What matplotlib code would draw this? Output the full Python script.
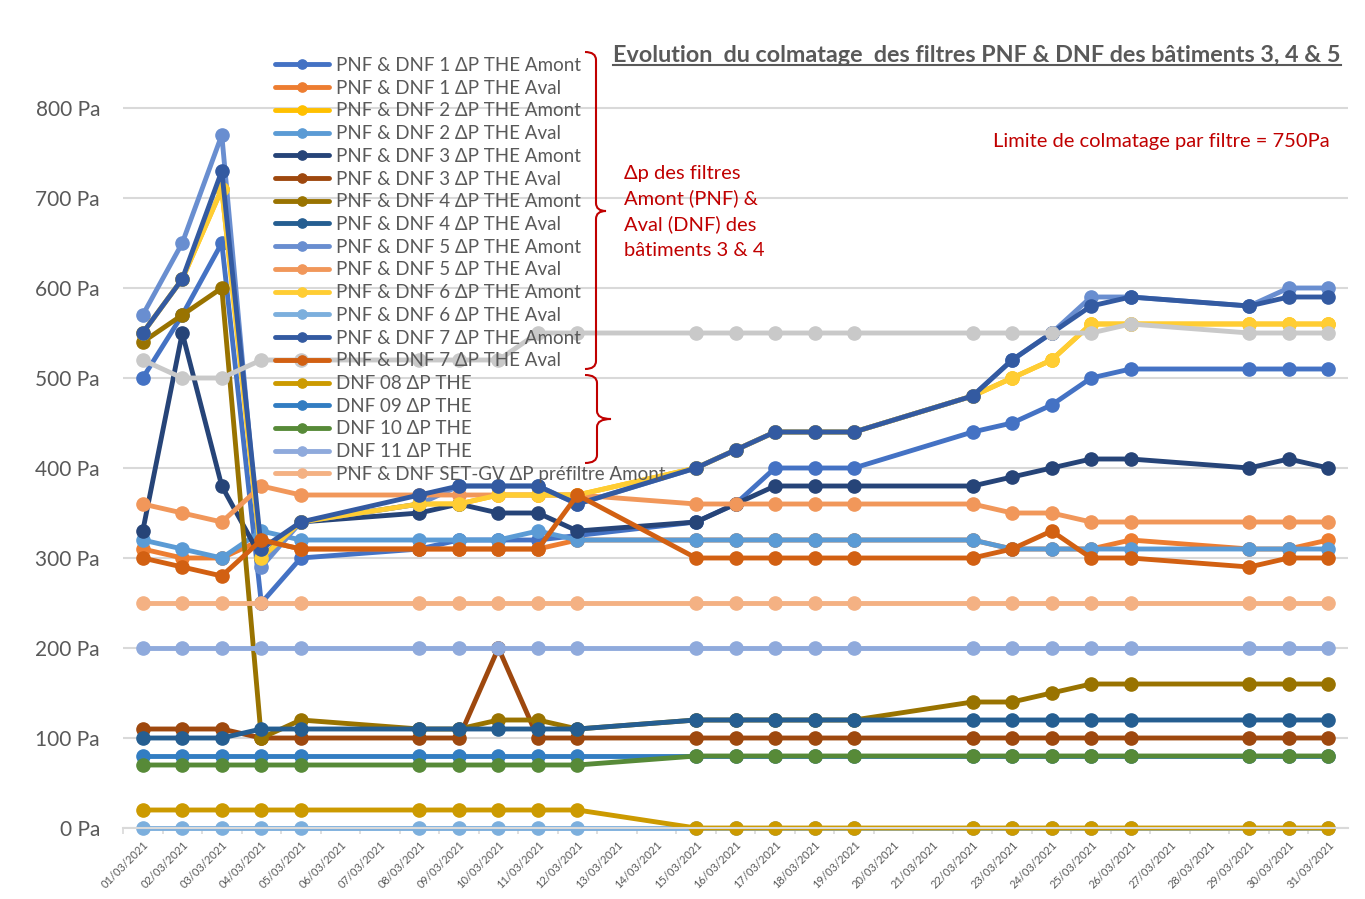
import matplotlib.pyplot as plt
from matplotlib.path import Path
from matplotlib.patches import PathPatch
from matplotlib.lines import Line2D

plt.rcParams['font.family'] = ['Lato', 'DejaVu Sans']

# jours de mesure (mars 2021)
jours = [1, 2, 3, 4, 5, 8, 9, 10, 11, 12, 15, 16, 17, 18, 19, 22, 23, 24, 25, 26, 29, 30, 31]
dates = ["%02d/03/2021" % j for j in range(1, 32)]

pnf1_amont = [500, 570, 650, 250, 300, 310, 320, 320, 320, 325, 340, 360, 400, 400, 400, 440, 450, 470, 500, 510, 510, 510, 510]
pnf1_aval = [310, 300, 300, 320, 310, 310, 310, 310, 310, 320, 320, 320, 320, 320, 320, 320, 310, 310, 310, 320, 310, 310, 320]
pnf2_amont = [550, 610, 710, 300, 340, 360, 360, 370, 370, 370, 400, 420, 440, 440, 440, 480, 500, 520, 560, 560, 560, 560, 560]
pnf2_aval = [320, 310, 300, 330, 320, 320, 320, 320, 330, 320, 320, 320, 320, 320, 320, 320, 310, 310, 310, 310, 310, 310, 310]
pnf3_amont = [330, 550, 380, 300, 340, 350, 360, 350, 350, 330, 340, 360, 380, 380, 380, 380, 390, 400, 410, 410, 400, 410, 400]
pnf3_aval = [110, 110, 110, 100, 100, 100, 100, 200, 100, 100, 100, 100, 100, 100, 100, 100, 100, 100, 100, 100, 100, 100, 100]
pnf4_amont = [540, 570, 600, 100, 120, 110, 110, 120, 120, 110, 120, 120, 120, 120, 120, 140, 140, 150, 160, 160, 160, 160, 160]
pnf4_aval = [100, 100, 100, 110, 110, 110, 110, 110, 110, 110, 120, 120, 120, 120, 120, 120, 120, 120, 120, 120, 120, 120, 120]
pnf5_amont = [570, 650, 770, 290, 340, 360, 380, 380, 380, 360, 400, 420, 440, 440, 440, 480, 520, 550, 590, 590, 580, 600, 600]
pnf5_aval = [360, 350, 340, 380, 370, 370, 370, 370, 370, 370, 360, 360, 360, 360, 360, 360, 350, 350, 340, 340, 340, 340, 340]
pnf6_amont = [550, 610, 710, 300, 340, 360, 360, 370, 370, 370, 400, 420, 440, 440, 440, 480, 500, 520, 560, 560, 560, 560, 560]
pnf6_aval = [0, 0, 0, 0, 0, 0, 0, 0, 0, 0, 0, 0, 0, 0, 0, 0, 0, 0, 0, 0, 0, 0, 0]
pnf7_amont = [550, 610, 730, 310, 340, 370, 380, 380, 380, 360, 400, 420, 440, 440, 440, 480, 520, 550, 580, 590, 580, 590, 590]
pnf7_aval = [300, 290, 280, 320, 310, 310, 310, 310, 310, 370, 300, 300, 300, 300, 300, 300, 310, 330, 300, 300, 290, 300, 300]
dnf08 = [20, 20, 20, 20, 20, 20, 20, 20, 20, 20, 0, 0, 0, 0, 0, 0, 0, 0, 0, 0, 0, 0, 0]
dnf09 = [80, 80, 80, 80, 80, 80, 80, 80, 80, 80, 80, 80, 80, 80, 80, 80, 80, 80, 80, 80, 80, 80, 80]
dnf10 = [70, 70, 70, 70, 70, 70, 70, 70, 70, 70, 80, 80, 80, 80, 80, 80, 80, 80, 80, 80, 80, 80, 80]
dnf11 = [200, 200, 200, 200, 200, 200, 200, 200, 200, 200, 200, 200, 200, 200, 200, 200, 200, 200, 200, 200, 200, 200, 200]
setgv_amont = [250, 250, 250, 250, 250, 250, 250, 250, 250, 250, 250, 250, 250, 250, 250, 250, 250, 250, 250, 250, 250, 250, 250]
setgv_aval = [520, 500, 500, 520, 520, 520, 520, 520, 550, 550, 550, 550, 550, 550, 550, 550, 550, 550, 550, 560, 550, 550, 550]

series = [
    ("PNF & DNF 1 ΔP THE Amont", pnf1_amont, "#4472C4"),
    ("PNF & DNF 1 ΔP THE Aval", pnf1_aval, "#ED7D31"),
    ("PNF & DNF 2 ΔP THE Amont", pnf2_amont, "#FFC000"),
    ("PNF & DNF 2 ΔP THE Aval", pnf2_aval, "#5B9BD5"),
    ("PNF & DNF 3 ΔP THE Amont", pnf3_amont, "#264478"),
    ("PNF & DNF 3 ΔP THE Aval", pnf3_aval, "#9E480E"),
    ("PNF & DNF 4 ΔP THE Amont", pnf4_amont, "#997300"),
    ("PNF & DNF 4 ΔP THE Aval", pnf4_aval, "#255E91"),
    ("PNF & DNF 5 ΔP THE Amont", pnf5_amont, "#698ED0"),
    ("PNF & DNF 5 ΔP THE Aval", pnf5_aval, "#F1975A"),
    ("PNF & DNF 6 ΔP THE Amont", pnf6_amont, "#FFCD33"),
    ("PNF & DNF 6 ΔP THE Aval", pnf6_aval, "#7CAFDD"),
    ("PNF & DNF 7 ΔP THE Amont", pnf7_amont, "#335AA1"),
    ("PNF & DNF 7 ΔP THE Aval", pnf7_aval, "#D26012"),
    ("DNF 08 ΔP THE", dnf08, "#CC9A00"),
    ("DNF 09 ΔP THE", dnf09, "#327DC2"),
    ("DNF 10 ΔP THE", dnf10, "#578A38"),
    ("DNF 11 ΔP THE", dnf11, "#8FAADC"),
    ("PNF & DNF SET-GV ΔP préfiltre Amont", setgv_amont, "#F4B183"),
    ("_PNF & DNF SET-GV ΔP préfiltre Aval", setgv_aval, "#C9C9C9"),
]

W, H = 1365, 899
fig = plt.figure(figsize=(W / 100, H / 100), dpi=100)
ax = fig.add_axes([123 / W, (H - 828) / H, (1348 - 123) / W, 765 / H])

for nom, vals, col in series:
    ax.plot(jours, vals, color=col, lw=3.5, marker='o', markersize=9.5,
            label=nom, clip_on=False, solid_capstyle='round')

ax.set_xlim(0.5, 31.5)
ax.set_ylim(0, 850)
ax.set_yticks(range(0, 801, 100))
ax.set_yticklabels(["%d Pa" % v for v in range(0, 801, 100)])
ax.set_xticks(range(1, 32))
ax.set_xticklabels(dates, rotation=45, ha='right', rotation_mode='anchor')
ax.set_xticks([j + 0.5 for j in range(0, 31)], minor=True)
ax.tick_params(axis='y', length=0, pad=16.5, labelsize=15, labelcolor='#595959')
ax.tick_params(axis='x', which='major', length=0, pad=8, labelsize=8, labelcolor='#595959')
ax.tick_params(axis='x', which='minor', length=4, color='#D9D9D9', width=1.2)
ax.grid(axis='y', color='#D9D9D9', lw=1.5)
ax.set_axisbelow(True)
for s in ['top', 'right', 'left']:
    ax.spines[s].set_visible(False)
ax.spines['bottom'].set_color('#D9D9D9')
ax.spines['bottom'].set_linewidth(1.5)

leg = fig.legend(loc='upper left', bbox_to_anchor=(275 / W, 1 - 57 / H), frameon=False,
                 fontsize=13.5, labelspacing=0.305, handlelength=2.9, handletextpad=0.35,
                 borderpad=0, borderaxespad=0, markerscale=0.7)
for t in leg.get_texts():
    t.set_color('#595959')


def accolade(x0, xm, xt, ytop, ybot, ymid, r=8):
    # accolade rouge en pixels (y vers le bas)
    pts = [(x0, ytop), (xm, ytop), (xm, ytop + r),
           (xm, ymid - r), (xm, ymid), (xt, ymid),
           (xm, ymid), (xm, ymid + r),
           (xm, ybot - r), (xm, ybot), (x0, ybot)]
    codes = [Path.MOVETO, Path.CURVE3, Path.CURVE3,
             Path.LINETO, Path.CURVE3, Path.CURVE3,
             Path.CURVE3, Path.CURVE3,
             Path.LINETO, Path.CURVE3, Path.CURVE3]
    pts = [(px / W, 1 - py / H) for px, py in pts]
    fig.add_artist(PathPatch(Path(pts, codes), transform=fig.transFigure,
                             fill=False, edgecolor='#C00000', lw=1.5))


accolade(585, 596, 606, 52, 369, 211)
accolade(585, 597, 611, 375, 463, 419)

rouge = ["Δp des filtres", "Amont (PNF) &", "Aval (DNF) des", "bâtiments 3 & 4"]
for i, ligne in enumerate(rouge):
    fig.text(624 / W, 1 - (173 + 25.7 * i) / H, ligne, color='#C00000', fontsize=14.5, va='center')
fig.text(993 / W, 1 - 141 / H, "Limite de colmatage par filtre = 750Pa", color='#C00000',
         fontsize=14.5, va='center')

titre = fig.text(613 / W, 1 - 56 / H, "Evolution  du colmatage  des filtres PNF & DNF des bâtiments 3, 4 & 5",
                 color='#595959', fontsize=16.8, fontweight='bold', va='center')
fig.canvas.draw()
bb = titre.get_window_extent()
fig.add_artist(Line2D([bb.x0, bb.x1], [bb.y0 + 2, bb.y0 + 2], transform=None,
                      color='#595959', lw=1.5))

fig.savefig("out.png", dpi=100)
